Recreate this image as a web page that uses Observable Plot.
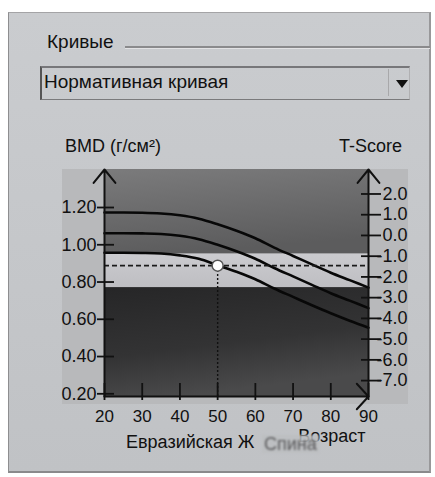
<!DOCTYPE html>
<html><head><meta charset="utf-8">
<script src="https://cdn.jsdelivr.net/npm/d3@7"></script>
<script src="https://cdn.jsdelivr.net/npm/@observablehq/plot@0.6"></script>
<style>
html,body{margin:0;padding:0;background:#fff;width:435px;height:477px;overflow:hidden;font-family:"Liberation Sans",Arial,sans-serif;color:#111;}
.abs{position:absolute;white-space:nowrap;}
#panel{left:8px;top:12px;width:420px;height:458px;background:linear-gradient(#cacccf,#c0c2c5);border-left:1px solid #8e8e90;border-top:1px solid #a4a4a6;border-right:2px solid #98989a;border-bottom:2px solid #8a8a8c;}
#grpTitle{left:47px;top:32px;font-size:19px;line-height:19px;}
#grpLine{left:125px;top:46px;width:305px;height:0;border-top:2px solid #8a8a8c;border-bottom:1px solid #e2e2e4;}
#combo{left:40px;top:66px;width:367px;height:31px;border-top:2px solid #77777a;border-left:2px solid #555;border-bottom:1px solid #7a7a7c;border-right:1px solid #b0b0b2;}
#comboText{left:44px;top:72px;font-size:19px;line-height:19px;}
#comboSep{left:388px;top:69px;width:0;height:27px;border-left:1px solid #a8a8aa;}
#comboArrow{left:396px;top:80px;width:0;height:0;border-left:6px solid transparent;border-right:6px solid transparent;border-top:8px solid #111;}
#bmdTitle{left:65px;top:137px;font-size:18px;line-height:18px;}
#tTitle{right:33px;top:137px;font-size:18px;line-height:18px;}
#plotBg{left:62px;top:169px;width:346px;height:235px;background:#b8b9bb;}
#chart{left:0;top:160px;}
#caption{left:126px;top:433px;font-size:18px;line-height:18px;}
#caption2{left:262px;top:435px;font-size:18px;line-height:18px;color:#5a5a5c;background:rgba(188,190,193,0.85);filter:blur(1.2px);padding:0 2px;}
</style>
</head><body>
<div id="panel" class="abs"></div>
<div id="grpTitle" class="abs">Кривые</div>
<div id="grpLine" class="abs"></div>
<div id="combo" class="abs"></div>
<div id="comboText" class="abs">Нормативная кривая</div>
<div id="comboSep" class="abs"></div>
<div id="comboArrow" class="abs"></div>
<div id="bmdTitle" class="abs">BMD (г/см²)</div>
<div id="tTitle" class="abs">T-Score</div>
<div id="plotBg" class="abs"></div>
<div id="chart" class="abs"></div>
<div id="caption" class="abs">Евразийская Ж</div>
<div id="caption2" class="abs">Спина</div>
<script>
// ---- data ----
const ages        = [20, 25, 30, 35, 40, 45, 50, 55, 60, 65, 70, 75, 80, 85, 90];
const curvePlus1  = [1.173, 1.173, 1.172, 1.168, 1.158, 1.140, 1.110, 1.075, 1.035, 0.985, 0.940, 0.895, 0.850, 0.810, 0.770];
const curveMean   = [1.062, 1.062, 1.061, 1.058, 1.048, 1.030, 1.000, 0.965, 0.925, 0.875, 0.830, 0.785, 0.740, 0.700, 0.660];
const curveMinus1 = [0.957, 0.957, 0.956, 0.953, 0.943, 0.925, 0.890, 0.855, 0.815, 0.765, 0.720, 0.675, 0.632, 0.592, 0.555];

const patientAge = 50;
const patientBMD = 0.888;

const bmdTicks    = [0.20, 0.40, 0.60, 0.80, 1.00, 1.20];
const ageTicks    = [20, 30, 40, 50, 60, 70, 80, 90];
const tScoreTicks = [2, 1, 0, -1, -2, -3, -4, -5, -6, -7];
const tScoreLabels = ["2.0", "1.0", "0.0", "-1.0", "-2.0", "-3.0", "-4.0", "-5.0", "-6.0", "-7.0"];
const youngMeanBMD = 1.05;   // BMD at T-Score 0
const youngSD = 0.1113;      // BMD per T-Score unit

const bmdDomain = [0.1855, 1.404];
const ageDomain = [20, 90];
const zoneNames = ["normal", "osteopenia", "osteoporosis"];
const zoneLo    = [0.95, 0.77, 0.1855];
const zoneHi    = [1.404, 0.95, 0.77];

// ---- build ----
const curves = [
  ...ages.map((a, i) => ({age: a, bmd: curvePlus1[i], s: "+1"})),
  ...ages.map((a, i) => ({age: a, bmd: curveMean[i], s: "0"})),
  ...ages.map((a, i) => ({age: a, bmd: curveMinus1[i], s: "-1"}))
];
const zones = zoneNames.map((n, i) => ({name: n, lo: zoneLo[i], hi: zoneHi[i]}));
const tBMD = tScoreTicks.map(t => +(youngMeanBMD + youngSD * t).toFixed(5));
const tLabelMap = new Map(tBMD.map((b, i) => [b, tScoreLabels[i]]));
const patient = [{age: patientAge, bmd: patientBMD}];

const defs = () => {
  const g = d3.create("svg:defs");
  const mk = (id, stops, x2 = 0, y2 = 1) => {
    const lg = g.append("linearGradient").attr("id", id).attr("x1", 0).attr("y1", 0).attr("x2", x2).attr("y2", y2);
    stops.forEach(([o, c]) => lg.append("stop").attr("offset", o).attr("stop-color", c));
  };
  mk("gNormal", [[0, "#7b7b7c"], [1, "#5c5c5d"]], 0.25, 1);
  mk("gBand", [[0, "#cbcbcf"], [1, "#bebec2"]]);
  mk("gLow", [[0, "#262627"], [0.6, "#333334"], [1, "#4a4a4b"]], 0.3, 1);
  return g.node();
};

const zoneFill = {normal: "url(#gNormal)", osteopenia: "url(#gBand)", osteoporosis: "url(#gLow)"};

const chart = Plot.plot({
  width: 435,
  height: 300,
  marginLeft: 104,
  marginRight: 67,
  marginTop: 9,
  marginBottom: 64,
  style: {background: "transparent", color: "#111", fontFamily: "Liberation Sans, Arial, sans-serif", overflow: "visible"},
  x: {domain: ageDomain},
  y: {domain: bmdDomain},
  marks: [
    defs,
    ...zones.map(z => Plot.rectY([z], {x1: ageDomain[0], x2: ageDomain[1], y1: "lo", y2: "hi", fill: zoneFill[z.name]})),
    Plot.line(curves, {x: "age", y: "bmd", z: "s", stroke: "#080808", strokeWidth: 2.6, curve: "monotone-x"}),
    Plot.ruleY(patient, {y: "bmd", x1: ageDomain[0], x2: ageDomain[1], stroke: "#1a1a1a", strokeWidth: 1.8, strokeDasharray: "5,3"}),
    Plot.ruleX(patient, {x: "age", y1: bmdDomain[0], y2: "bmd", stroke: "#111", strokeWidth: 1.4, strokeDasharray: "2,2"}),
    Plot.dot(patient, {x: "age", y: "bmd", r: 5.5, fill: "#fff", stroke: "#555", strokeWidth: 1.5}),
    Plot.axisY(bmdTicks, {anchor: "left", tickSize: 17, dx: 10, tickPadding: 1, tickFormat: d3.format(".2f"), fontSize: 18, strokeWidth: 1.8, label: null}),
    Plot.axisY(tBMD, {anchor: "right", tickSize: 20, dx: -8, tickPadding: 27, textAnchor: "end", tickFormat: d => tLabelMap.get(d), fontSize: 18, strokeWidth: 1.8, label: null}),
    Plot.axisX(ageTicks, {anchor: "bottom", tickSize: 17, dy: -13, tickPadding: 9, fontSize: 17, strokeWidth: 1.8, label: null}),
    Plot.arrow([0], {x1: ageDomain[0], x2: ageDomain[0], y1: bmdDomain[0], y2: bmdDomain[1], headLength: 13, headAngle: 78, stroke: "#111", strokeWidth: 2}),
    Plot.arrow([0], {x1: ageDomain[1], x2: ageDomain[1], y1: bmdDomain[0], y2: bmdDomain[1], headLength: 13, headAngle: 78, stroke: "#111", strokeWidth: 2}),
    Plot.arrow([0], {x1: ageDomain[0], x2: ageDomain[1], y1: bmdDomain[0], y2: bmdDomain[0], headLength: 13, headAngle: 95, stroke: "#111", strokeWidth: 2}),
    Plot.text(["Возраст"], {frameAnchor: "bottom-right", textAnchor: "end", lineAnchor: "bottom", dy: 45, dx: -3, fontSize: 18, fill: "#111"})
  ]
});
document.getElementById("chart").appendChild(chart);
</script>
</body></html>
